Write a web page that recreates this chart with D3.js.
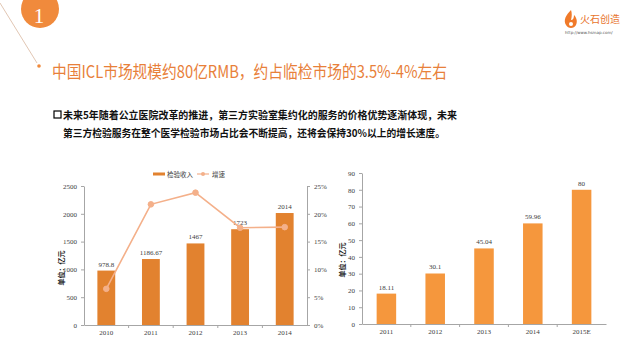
<!DOCTYPE html>
<html><head><meta charset="utf-8">
<script src="https://cdn.jsdelivr.net/npm/d3@7"></script>
<style>body{margin:0;background:#fff}svg{display:block}</style>
</head><body><svg id="c" width="640" height="360"></svg>
<script>
const years1 = ["2010","2011","2012","2013","2014"];
const revenue = [978.8, 1186.67, 1467, 1723, 2014];
const revenueLabels = ["978.8","1186.67","1467","1723","2014"];
const growth = [6.5, 21.7, 23.8, 17.5, 17.6];
const leftTicks = [0,500,1000,1500,2000,2500];
const rightTicks = [0,5,10,15,20,25];
const years2 = ["2011","2012","2013","2014","2015E"];
const market = [18.11, 30.1, 45.04, 59.96, 80];
const marketLabels = ["18.11","30.1","45.04","59.96","80"];
const marketTicks = [0,10,20,30,40,50,60,70,80,90];
const legendNames = ["检验收入","增速"];
const titleText = "中国ICL市场规模约80亿RMB，约占临检市场的3.5%-4%左右";
const para1 = "未来5年随着公立医院改革的推进，第三方实验室集约化的服务的价格优势逐渐体现，未来";
const para2 = "第三方检验服务在整个医学检验市场占比会不断提高，还将会保持30%以上的增长速度。";
const unitLabel = "单位：亿元";

const svg = d3.select("#c");
const CJK = "'Noto Sans CJK SC', sans-serif";
const tickFont = "'Liberation Serif', 'DejaVu Serif', serif";

// header decorations
svg.append("line").attr("x1",0).attr("y1",3).attr("x2",37).attr("y2",63)
  .attr("stroke","#d9b8a0").attr("stroke-width",0.8);
svg.append("circle").attr("cx",40).attr("cy",9).attr("r",19).attr("fill","#F08A3C");
svg.append("text").attr("x",39).attr("y",23).attr("text-anchor","middle")
  .attr("font-family","'Liberation Serif', serif").attr("font-size",21).attr("fill","#fff").text("1");
svg.append("circle").attr("cx",39).attr("cy",66).attr("r",1.8).attr("fill","#F08A3C");

// logo
const logo = svg.append("g");
logo.append("path").attr("d","M571,10 C566,15 563,20 566,25 C568,29 574,29 576,25 C578,21 576,17 574,15 C574,18 573,20 571,20 C572,16 572,13 571,10 Z")
  .attr("fill","#F07A2A");
logo.append("circle").attr("cx",571).attr("cy",24).attr("r",2).attr("fill","#fff");
logo.append("text").attr("x",580).attr("y",23).attr("font-family",CJK).attr("font-size",10)
  .attr("fill","#E8742C").text("火石创造");
logo.append("text").attr("x",565).attr("y",34).attr("font-family","'DejaVu Sans', sans-serif")
  .attr("font-size",4).attr("fill","#555").text("http://www.hsmap.com/");

// title
svg.append("text").attr("x",52).attr("y",78).attr("font-family",CJK).attr("font-size",17)
  .attr("fill","#E8803A").attr("textLength",395).attr("lengthAdjust","spacingAndGlyphs").text(titleText);

// paragraph
svg.append("rect").attr("x",54).attr("y",111).attr("width",7).attr("height",7)
  .attr("fill","none").attr("stroke","#000").attr("stroke-width",1.2);
svg.append("text").attr("x",63).attr("y",118.5).attr("font-family",CJK).attr("font-size",10.5)
  .attr("font-weight","bold").attr("fill","#111").attr("textLength",394).attr("lengthAdjust","spacingAndGlyphs").text(para1);
svg.append("text").attr("x",63).attr("y",136.5).attr("font-family",CJK).attr("font-size",10.5)
  .attr("font-weight","bold").attr("fill","#111").attr("textLength",382).attr("lengthAdjust","spacingAndGlyphs").text(para2);

function styleAxis(g){
  g.selectAll("path.domain").attr("stroke","#a6a6a6");
  g.selectAll(".tick line").attr("stroke","#a6a6a6");
  g.selectAll(".tick text").attr("font-family",tickFont).attr("font-size",7).attr("fill","#404040");
}

// ===== left chart =====
const L = {x0:84, x1:307, y0:325, y1:186};
const x1 = d3.scaleBand().domain(years1).range([L.x0,L.x1]).paddingInner(0.6).paddingOuter(0.3);
const yL = d3.scaleLinear().domain([0,2500]).range([L.y0,L.y1]);
const yR = d3.scaleLinear().domain([0,25]).range([L.y0,L.y1]);

const gl = svg.append("g");
gl.selectAll("rect.bar").data(revenue).join("rect").attr("class","bar")
  .attr("x",(d,i)=>x1(years1[i])).attr("width",x1.bandwidth())
  .attr("y",d=>yL(d)).attr("height",d=>yL(0)-yL(d)).attr("fill","#E2822F");
gl.selectAll("text.lab").data(revenue).join("text").attr("class","lab")
  .attr("x",(d,i)=>x1(years1[i])+x1.bandwidth()/2).attr("y",d=>yL(d)-4)
  .attr("text-anchor","middle").attr("font-family",tickFont).attr("font-size",7).attr("fill","#404040")
  .text((d,i)=>revenueLabels[i]);

const axL = gl.append("g").attr("transform",`translate(${L.x0},0)`)
  .call(d3.axisLeft(yL).tickValues(leftTicks).tickFormat(d3.format("d")).tickSize(3).tickPadding(4).tickSizeOuter(0));
styleAxis(axL);
const axR = gl.append("g").attr("transform",`translate(${L.x1},0)`)
  .call(d3.axisRight(yR).tickValues(rightTicks).tickSize(3).tickPadding(4).tickSizeOuter(0).tickFormat(d=>d+"%"));
styleAxis(axR);
const axB = gl.append("g").attr("transform",`translate(0,${L.y0})`)
  .call(d3.axisBottom(x1).tickSize(0).tickPadding(5));
styleAxis(axB);
axB.selectAll(".sep").data(years1.slice(1)).join("line").attr("class","sep")
  .attr("x1",d=>x1(d)-x1.step()*x1.paddingInner()/2).attr("x2",d=>x1(d)-x1.step()*x1.paddingInner()/2)
  .attr("y1",0).attr("y2",3).attr("stroke","#a6a6a6");

const line = d3.line().x((d,i)=>x1(years1[i])+x1.bandwidth()/2).y(d=>yR(d));
gl.append("path").datum(growth).attr("d",line).attr("fill","none").attr("stroke","#F4B08A").attr("stroke-width",1.6);
gl.selectAll("circle.pt").data(growth).join("circle").attr("class","pt")
  .attr("cx",(d,i)=>x1(years1[i])+x1.bandwidth()/2).attr("cy",d=>yR(d)).attr("r",2.8)
  .attr("fill","#F4B08A").attr("stroke","#F4B08A");

gl.append("text").attr("transform","translate(64,268) rotate(-90)").attr("text-anchor","middle")
  .attr("font-family",CJK).attr("font-size",7).attr("font-weight","bold").attr("fill","#222").text(unitLabel);

// legend
const lg = gl.append("g");
lg.append("rect").attr("x",153).attr("y",172.5).attr("width",12).attr("height",3).attr("fill","#E2822F");
lg.append("text").attr("x",167).attr("y",176.5).attr("font-family",CJK).attr("font-size",6.5).attr("fill","#404040").text(legendNames[0]);
lg.append("line").attr("x1",197).attr("x2",209).attr("y1",174).attr("y2",174).attr("stroke","#F4B08A").attr("stroke-width",1.2);
lg.append("circle").attr("cx",203).attr("cy",174).attr("r",2).attr("fill","#F4B08A");
lg.append("text").attr("x",212).attr("y",176.5).attr("font-family",CJK).attr("font-size",6.5).attr("fill","#404040").text(legendNames[1]);

// ===== right chart =====
const R = {x0:362, x1:606, y0:324, y1:173};
const x2 = d3.scaleBand().domain(years2).range([R.x0,R.x1]).paddingInner(0.6).paddingOuter(0.3);
const y2 = d3.scaleLinear().domain([0,90]).range([R.y0,R.y1]);
const gr = svg.append("g");
gr.selectAll("rect.bar").data(market).join("rect").attr("class","bar")
  .attr("x",(d,i)=>x2(years2[i])).attr("width",x2.bandwidth())
  .attr("y",d=>y2(d)).attr("height",d=>y2(0)-y2(d)).attr("fill","#F5973D");
gr.selectAll("text.lab").data(market).join("text").attr("class","lab")
  .attr("x",(d,i)=>x2(years2[i])+x2.bandwidth()/2).attr("y",d=>y2(d)-4)
  .attr("text-anchor","middle").attr("font-family",tickFont).attr("font-size",7).attr("fill","#404040")
  .text((d,i)=>marketLabels[i]);
const ax2L = gr.append("g").attr("transform",`translate(${R.x0},0)`)
  .call(d3.axisLeft(y2).tickValues(marketTicks).tickSize(3).tickPadding(4).tickSizeOuter(0));
styleAxis(ax2L);
const ax2B = gr.append("g").attr("transform",`translate(0,${R.y0})`)
  .call(d3.axisBottom(x2).tickSize(0).tickPadding(5));
styleAxis(ax2B);
ax2B.selectAll(".sep").data(years2.slice(1)).join("line").attr("class","sep")
  .attr("x1",d=>x2(d)-x2.step()*x2.paddingInner()/2).attr("x2",d=>x2(d)-x2.step()*x2.paddingInner()/2)
  .attr("y1",0).attr("y2",3).attr("stroke","#a6a6a6");
gr.append("text").attr("transform","translate(345,260) rotate(-90)").attr("text-anchor","middle")
  .attr("font-family",CJK).attr("font-size",7).attr("font-weight","bold").attr("fill","#222").text(unitLabel);
</script>
</body></html>
